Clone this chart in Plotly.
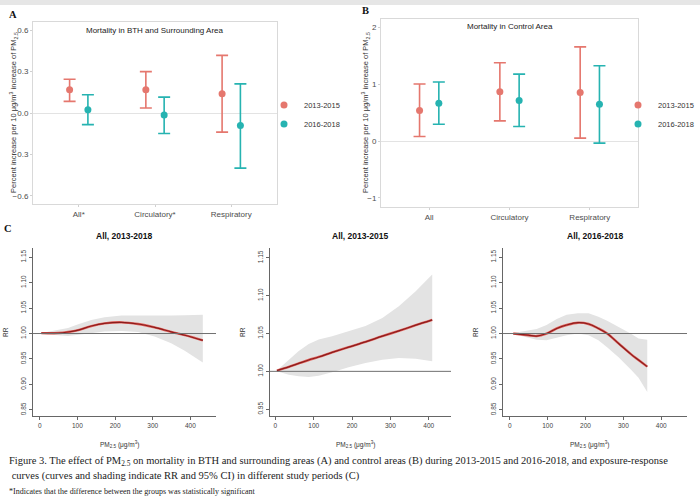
import plotly.graph_objects as go

# ---- panel A / B data (percent increase per 10 ug/m3 PM2.5) ----
cats_a = ["All*", "Circulatory*", "Respiratory"]
cats_b = ["All", "Circulatory", "Respiratory"]

a13_est = [0.168, 0.168, 0.139]
a13_low = [0.084, 0.036, -0.139]
a13_high = [0.245, 0.300, 0.418]
a16_est = [0.024, -0.014, -0.091]
a16_low = [-0.084, -0.149, -0.400]
a16_high = [0.132, 0.115, 0.211]

b13_est = [0.538, 0.871, 0.854]
b13_low = [0.082, 0.357, 0.053]
b13_high = [1.006, 1.380, 1.660]
b16_est = [0.667, 0.713, 0.649]
b16_low = [0.298, 0.257, -0.035]
b16_high = [1.040, 1.180, 1.327]

# ---- panel C data (exposure-response, RR with 95% CI) ----
c1_pm = [4, 49, 75, 102, 137, 172, 217, 261, 305, 349, 385, 433]
c1_rr = [1.0007, 1.001, 1.003, 1.0067, 1.0147, 1.020, 1.022, 1.0187, 1.012, 1.0033, 0.9967, 0.9867]
c1_up = [1.001, 1.0067, 1.011, 1.018, 1.0267, 1.032, 1.0353, 1.0353, 1.0347, 1.0353, 1.036, 1.0367]
c1_lo = [0.999, 0.9967, 0.9953, 0.9967, 1.001, 1.004, 1.005, 1.003, 0.994, 0.981, 0.966, 0.943]

c2_pm = [4, 35, 61, 87, 113, 148, 191, 235, 279, 322, 366, 409]
c2_rr = [1.001, 1.006, 1.0105, 1.015, 1.019, 1.025, 1.032, 1.039, 1.0465, 1.0535, 1.061, 1.068]
c2_up = [1.001, 1.0154, 1.027, 1.036, 1.042, 1.0463, 1.053, 1.060, 1.0706, 1.086, 1.106, 1.128]
c2_lo = [1.000, 0.9956, 0.9934, 0.9925, 0.9943, 0.9987, 1.0053, 1.011, 1.0154, 1.0176, 1.0168, 1.0132]

c3_pm = [9, 49, 71, 97, 124, 150, 180, 208, 234, 257, 288, 319, 340, 363]
c3_rr = [1.000, 0.9967, 0.995, 1.000, 1.010, 1.0167, 1.0213, 1.0187, 1.010, 1.000, 0.980, 0.960, 0.948, 0.935]
c3_up = [1.001, 1.0067, 1.0087, 1.0167, 1.0287, 1.0367, 1.040, 1.040, 1.033, 1.025, 1.013, 1.000, 0.990, 0.988]
c3_lo = [0.999, 0.992, 0.988, 0.9867, 0.992, 0.9967, 1.000, 0.9967, 0.9867, 0.973, 0.953, 0.930, 0.913, 0.885]

period_names = ["2013-2015", "2016-2018"]
c_titles = ["All, 2013-2018", "All, 2013-2015", "All, 2016-2018"]
c_xticks = [0, 100, 200, 300, 400]

W, H = 700, 499
RED = "#E5776E"
TEAL = "#26B3B1"
SANS = "Liberation Sans"
SERIF = "Liberation Serif"


def fx(p):
    return p / W


def fy(p):
    return 1 - p / H


fig = go.Figure()

# dodge of the two periods around each category
dodge = 0.12


def add_pointrange(est, low, high, color, name, ax, legend):
    xs = [i + 1 + (-dodge if color == RED else dodge) for i in range(len(est))]
    fig.add_trace(go.Scatter(
        x=xs, y=est, mode="markers", name=name,
        marker=dict(color=color, size=7),
        error_y=dict(type="data", symmetric=False,
                     array=[h - e for h, e in zip(high, est)],
                     arrayminus=[e - l for e, l in zip(est, low)],
                     color=color, thickness=1.6, width=6),
        xaxis="x" + ax, yaxis="y" + ax, legend=legend,
    ))


add_pointrange(a13_est, a13_low, a13_high, RED, period_names[0], "", "legend")
add_pointrange(a16_est, a16_low, a16_high, TEAL, period_names[1], "", "legend")
add_pointrange(b13_est, b13_low, b13_high, RED, period_names[0], "2", "legend2")
add_pointrange(b16_est, b16_low, b16_high, TEAL, period_names[1], "2", "legend2")

# exposure-response curves
curves = [(c1_pm, c1_rr, c1_up, c1_lo), (c2_pm, c2_rr, c2_up, c2_lo), (c3_pm, c3_rr, c3_up, c3_lo)]
for k, (pm, rr, up, lo) in enumerate(curves):
    ax = str(k + 3)
    fig.add_trace(go.Scatter(
        x=pm + pm[::-1], y=up + lo[::-1], fill="toself", fillcolor="#e3e3e3",
        mode="lines", line=dict(width=0), showlegend=False, hoverinfo="skip",
        xaxis="x" + ax, yaxis="y" + ax))
    fig.add_trace(go.Scatter(
        x=pm, y=rr, mode="lines", line=dict(color="#e0605a", width=2.4, shape="spline"),
        showlegend=False, xaxis="x" + ax, yaxis="y" + ax))
    fig.add_trace(go.Scatter(
        x=pm, y=rr, mode="lines", line=dict(color="#8b1c1c", width=1.2, shape="spline"),
        showlegend=False, xaxis="x" + ax, yaxis="y" + ax))
    # reference line RR = 1
    fig.add_shape(type="line", xref="x" + ax + " domain", yref="y" + ax,
                  x0=0, x1=1, y0=1, y1=1, line=dict(color="#707070", width=1))

# ---- axes ----
gg_axis = dict(showgrid=False, showline=True, mirror=True, linecolor="#d9d9d9", linewidth=1,
               ticks="outside", ticklen=2, tickcolor="#d0d0d0",
               tickfont=dict(family=SANS, size=8, color="#4d4d4d"))

fig.update_layout(
    xaxis=dict(gg_axis, domain=[fx(33), fx(277)], range=[0.4, 3.6], anchor="y",
               tickvals=[1, 2, 3], ticktext=cats_a, zeroline=False),
    yaxis=dict(gg_axis, domain=[fy(204), fy(22)], range=[-0.66, 0.66], anchor="x",
               tickvals=[-0.6, -0.3, 0, 0.3, 0.6], tickformat=".1f",
               zeroline=True, zerolinecolor="#e3e3e3", zerolinewidth=1),
    xaxis2=dict(gg_axis, domain=[fx(381), fx(638)], range=[0.4, 3.6], anchor="y2",
                tickvals=[1, 2, 3], ticktext=cats_b, zeroline=False),
    yaxis2=dict(gg_axis, domain=[fy(207), fy(19)], range=[-1.16, 2.15], anchor="x2",
                tickvals=[-1, 0, 1, 2], zeroline=True, zerolinecolor="#e3e3e3", zerolinewidth=1),
)

base_axis = dict(showgrid=False, zeroline=False, showline=True, linecolor="#666666", linewidth=1,
                 ticks="outside", ticklen=3, tickcolor="#666666",
                 tickfont=dict(family=SANS, size=6.5, color="#444444"))
c_dom_x = [[fx(33), fx(216)], [fx(270), fx(451)], [fx(503), fx(687)]]
c_rng_x = [[-18, 468], [-14, 458], [-18, 468]]
c_rng_y = [[0.838, 1.168], [0.941, 1.163], [0.838, 1.168]]
c_tick_y = [[0.85, 0.90, 0.95, 1.00, 1.05, 1.10, 1.15],
            [0.95, 1.00, 1.05, 1.10, 1.15],
            [0.85, 0.90, 0.95, 1.00, 1.05, 1.10, 1.15]]
for k in range(3):
    n = str(k + 3)
    fig.update_layout({
        "xaxis" + n: dict(base_axis, domain=c_dom_x[k], range=c_rng_x[k], tickvals=c_xticks,
                          anchor="y" + n),
        "yaxis" + n: dict(base_axis, domain=[fy(416), fy(248)], range=c_rng_y[k],
                          tickvals=c_tick_y[k], tickformat=".2f", tickangle=-90,
                          anchor="x" + n),
    })

# ---- text ----
ann = []
ann.append(dict(text="Mortality in BTH and Surrounding Area", x=fx(155), y=fy(31),
                font=dict(family=SANS, size=8, color="#222222")))
ann.append(dict(text="Mortality in Control Area", x=fx(510), y=fy(27),
                font=dict(family=SANS, size=8, color="#222222")))
ytitle = "Percent increase per 10 \u03bcg/m<sup>3</sup> increase of PM<sub>2.5</sub>"
ann.append(dict(text=ytitle, x=fx(13), y=fy(113), textangle=-90,
                font=dict(family=SANS, size=7.5, color="#333333")))
ann.append(dict(text=ytitle, x=fx(365), y=fy(113), textangle=-90,
                font=dict(family=SANS, size=7.5, color="#333333")))
for lab, px, py in [("A", 13, 14), ("B", 365, 10), ("C", 8, 228)]:
    ann.append(dict(text="<b>" + lab + "</b>", x=fx(px), y=fy(py),
                    font=dict(family=SERIF, size=10.5, color="#111111")))
for k in range(3):
    n = str(k + 3)
    ann.append(dict(text="<b>" + c_titles[k] + "</b>", xref="x" + n + " domain", yref="paper",
                    x=0.5, y=fy(236), font=dict(family=SANS, size=8.5, color="#111111")))
    ann.append(dict(text="RR", xref="x" + n + " domain", yref="y" + n + " domain",
                    x=0, y=0.5, xshift=-28, textangle=-90,
                    font=dict(family=SANS, size=6.5, color="#333333")))
    ann.append(dict(text="PM<sub>2.5</sub> (\u03bcg/m<sup>3</sup>)", xref="x" + n + " domain",
                    yref="y" + n + " domain", x=0.47, y=0, yshift=-28,
                    font=dict(family=SANS, size=6.5, color="#333333")))

caption = [
    ("Figure 3. The effect of PM<sub>2.5</sub> on mortality in BTH and surrounding areas (A) and control "
     "areas (B) during 2013-2015 and 2016-2018, and exposure-response", 461, 10.5),
    (" curves (curves and shading indicate RR and 95% CI) in different study periods (C)", 476, 10.5),
    ("*Indicates that the difference between the groups was statistically significant", 491, 8),
]
for txt, py, sz in caption:
    ann.append(dict(text=txt, x=fx(7), y=fy(py), xanchor="left",
                    font=dict(family=SERIF, size=sz, color="#222222")))

for a in ann:
    a.setdefault("xref", "paper")
    a.setdefault("yref", "paper")
    a.setdefault("xanchor", "center")
    a.setdefault("yanchor", "middle")
    a["showarrow"] = False
fig.update_layout(annotations=ann)

legend_style = dict(font=dict(family=SANS, size=7.5, color="#333333"), bgcolor="rgba(0,0,0,0)",
                    yanchor="middle", xanchor="left", tracegroupgap=0)
fig.update_layout(
    legend=dict(legend_style, x=fx(264), y=fy(114.5)),
    legend2=dict(legend_style, x=fx(618), y=fy(114.5)),
)

fig.add_shape(type="rect", xref="paper", yref="paper", x0=0, x1=1, y0=fy(5), y1=1,
              fillcolor="#e6e6e6", line=dict(width=0), layer="below")

fig.update_layout(width=W, height=H, margin=dict(l=0, r=0, t=0, b=0),
                  paper_bgcolor="white", plot_bgcolor="white", showlegend=True)

# the page body has a default 8px margin; drop it so the figure fills the window
fig.write_html("out.html", config={"displayModeBar": False},
               post_script="document.body.style.margin='0px';")
